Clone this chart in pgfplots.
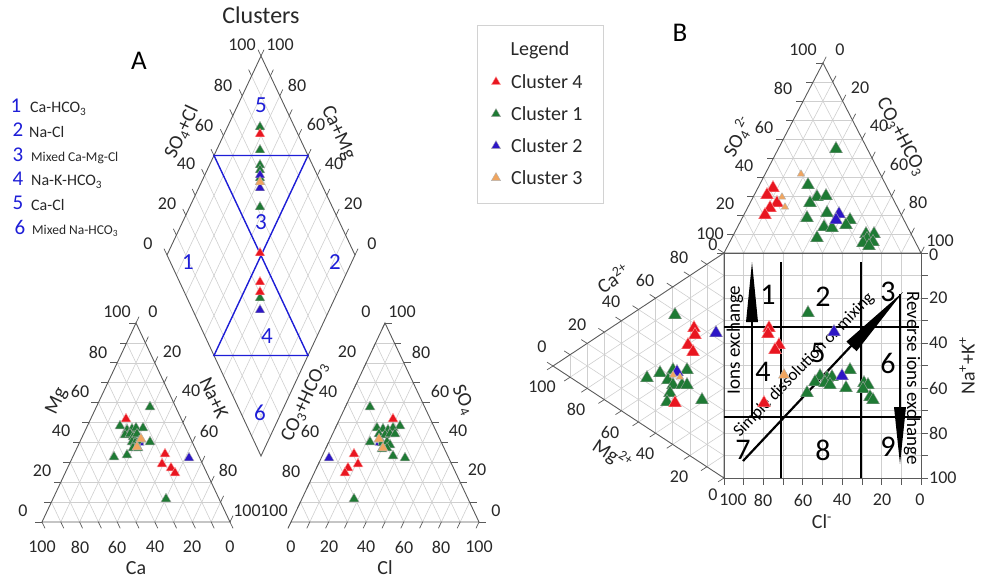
\documentclass[border=0pt]{standalone}
\usepackage{pgfplots}
\pgfplotsset{compat=1.18}
\usepackage{fontspec}
\setmainfont{Carlito}
\usetikzlibrary{calc}

\definecolor{cred}{RGB}{232,22,32}
\definecolor{cgreen}{RGB}{30,122,52}
\definecolor{cblue}{RGB}{45,22,198}
\definecolor{corange}{RGB}{240,165,95}
\definecolor{cline}{RGB}{30,30,215}
\definecolor{frm}{RGB}{90,90,90}
\definecolor{txt}{RGB}{40,40,40}

\newcommand\fs[1]{\fontsize{#1bp}{#1bp}\selectfont}

\tikzset{
  gridline/.style={draw=gray!38, line width=0.6bp},
  frame/.style={draw=frm, line width=0.9bp},
  tick/.style={draw=frm, line width=0.7bp},
  lab/.style={text=txt, font=\fs{18}, inner sep=0pt},
  ttl/.style={text=txt, font=\fs{20}, inner sep=0pt},
  bnum/.style={text=cline, font=\fs{23}, inner sep=0pt},
  snum/.style={text=black, font=\fs{30}, inner sep=0pt},
}

% ternary grid: P, Q (base), R (apex), iso-lines every 10 %
\newcommand{\trigrid}[3]{%
  \pgfplotsinvokeforeach{1,...,9}{%
    \draw[gridline] ($(#1)!0.##1!(#3)$) -- ($(#2)!0.##1!(#3)$);
    \draw[gridline] ($(#1)!0.##1!(#2)$) -- ($(#3)!0.##1!(#2)$);
    \draw[gridline] ($(#2)!0.##1!(#1)$) -- ($(#3)!0.##1!(#1)$);
  }%
}
% parallelogram grid: corners A B C D in order
\newcommand{\quadgrid}[4]{%
  \pgfplotsinvokeforeach{1,...,9}{%
    \draw[gridline] ($(#1)!0.##1!(#2)$) -- ($(#4)!0.##1!(#3)$);
    \draw[gridline] ($(#1)!0.##1!(#4)$) -- ($(#2)!0.##1!(#3)$);
  }%
}
% tick marks along a side, every 10 %
\newcommand{\sideticks}[4]{%
  \pgfplotsinvokeforeach{0,...,10}{%
    \draw[tick] ($(#1)!##1*0.1!(#2)$) -- ++(#3bp,#4bp);
  }%
}

\pgfplotsset{
  c1/.style={only marks, mark=triangle*, mark size=#1,
    mark options={fill=cgreen, draw=gray!70, line width=0.4bp}},
  c4/.style={only marks, mark=triangle*, mark size=#1,
    mark options={fill=cred, draw=red!35!white, line width=0.4bp}},
  c2/.style={only marks, mark=triangle*, mark size=#1,
    mark options={fill=cblue, draw=gray!60, line width=0.4bp}},
  c3/.style={only marks, mark=triangle*, mark size=#1,
    mark options={fill=corange, draw=gray!60, line width=0.4bp}},
}

\begin{document}
\begin{tikzpicture}
\path[use as bounding box] (0,0) rectangle (984bp,-579bp);
\begin{axis}[
  at={(0,0)}, anchor=north west,
  x=1bp, y=1bp, y dir=reverse,
  xmin=0, xmax=984, ymin=0, ymax=579,
  enlargelimits=false, hide axis, clip=false,
]
% ---------- Panel A : Piper diagram ----------
\coordinate (P1) at (axis cs:42,522);
\coordinate (Q1) at (axis cs:230,522);
\coordinate (R1) at (axis cs:136,323);
\coordinate (P2) at (axis cs:291,522);
\coordinate (Q2) at (axis cs:479,522);
\coordinate (R2) at (axis cs:385,323);
\coordinate (DL) at (axis cs:167,255);
\coordinate (DT) at (axis cs:261,56);
\coordinate (DR) at (axis cs:355,255);
\coordinate (DB) at (axis cs:261,456);

\trigrid{P1}{Q1}{R1}
\trigrid{P2}{Q2}{R2}
\quadgrid{DL}{DT}{DR}{DB}

\sideticks{P1}{R1}{-7}{0}
\sideticks{R1}{Q1}{3}{6.3}
\sideticks{P1}{Q1}{3}{-6.3}
\sideticks{P2}{R2}{-3}{-6.3}
\sideticks{R2}{Q2}{7}{0}
\sideticks{P2}{Q2}{-3}{-6.3}
\sideticks{DL}{DT}{-3}{6.3}
\sideticks{DT}{DR}{3}{6.3}

\draw[frame] (P1) -- (Q1) -- (R1) -- cycle;
\draw[frame] (P2) -- (Q2) -- (R2) -- cycle;
\draw[frame] (DL) -- (DT) -- (DR) -- (DB) -- cycle;

% hydrochemical facies fields
\draw[cline, line width=1.4bp] (axis cs:214,155.5) -- (axis cs:308,155.5) -- (axis cs:214,355.5) -- (axis cs:308,355.5) -- cycle;

% tick labels, cation triangle
\node[lab] at (axis cs:23,511) {0};
\node[lab] at (axis cs:42,471) {20};
\node[lab] at (axis cs:61,431) {40};
\node[lab] at (axis cs:80,391) {60};
\node[lab] at (axis cs:98,352) {80};
\node[lab] at (axis cs:117,312) {100};
\node[lab] at (axis cs:153,312) {0};
\node[lab] at (axis cs:172,352) {20};
\node[lab] at (axis cs:191,391) {40};
\node[lab] at (axis cs:209,431) {60};
\node[lab] at (axis cs:228,470) {80};
\node[lab] at (axis cs:247,511) {100};
\node[lab] at (axis cs:42,547) {100};
\node[lab] at (axis cs:80,547) {80};
\node[lab] at (axis cs:117,547) {60};
\node[lab] at (axis cs:155,547) {40};
\node[lab] at (axis cs:192,547) {20};
\node[lab] at (axis cs:230,547) {0};
\node[ttl] at (axis cs:136,568) {Ca};
\node[ttl, rotate=65] at (axis cs:57,401) {Mg};
\node[ttl, rotate=-65] at (axis cs:214,398) {Na+K};

% tick labels, anion triangle
\node[lab] at (axis cs:274,511) {100};
\node[lab] at (axis cs:291,471) {80};
\node[lab] at (axis cs:310,431) {60};
\node[lab] at (axis cs:328,392) {40};
\node[lab] at (axis cs:347,352) {20};
\node[lab] at (axis cs:366,312) {0};
\node[lab] at (axis cs:402,312) {100};
\node[lab] at (axis cs:421,352) {80};
\node[lab] at (axis cs:440,391) {60};
\node[lab] at (axis cs:458,431) {40};
\node[lab] at (axis cs:477,470) {20};
\node[lab] at (axis cs:496,511) {0};
\node[lab] at (axis cs:291,547) {0};
\node[lab] at (axis cs:329,547) {20};
\node[lab] at (axis cs:366,547) {40};
\node[lab] at (axis cs:404,547) {60};
\node[lab] at (axis cs:441,547) {80};
\node[lab] at (axis cs:479,547) {100};
\node[ttl] at (axis cs:385,568) {Cl};
\node[ttl, rotate=65] at (axis cs:305,402) {CO\textsubscript{3}+HCO\textsubscript{3}};
\node[ttl, rotate=-65] at (axis cs:463,400) {SO\textsubscript{4}};

% tick labels, diamond
\node[lab] at (axis cs:148,244) {0};
\node[lab] at (axis cs:167,204) {20};
\node[lab] at (axis cs:186,164) {40};
\node[lab] at (axis cs:204,125) {60};
\node[lab] at (axis cs:223,85) {80};
\node[lab] at (axis cs:242,45) {100};
\node[lab] at (axis cs:280,45) {100};
\node[lab] at (axis cs:297,85) {80};
\node[lab] at (axis cs:316,124) {60};
\node[lab] at (axis cs:334,164) {40};
\node[lab] at (axis cs:353,204) {20};
\node[lab] at (axis cs:372,244) {0};
\node[ttl, rotate=65] at (axis cs:182,132) {SO\textsubscript{4}+Cl};
\node[ttl, rotate=-65] at (axis cs:338,133) {Ca+Mg};

\node[bnum] at (axis cs:261,105) {5};
\node[bnum] at (axis cs:261,222) {3};
\node[bnum] at (axis cs:188,262) {1};
\node[bnum] at (axis cs:335,262) {2};
\node[bnum] at (axis cs:267,336) {4};
\node[bnum] at (axis cs:260,413) {6};

\node[text=txt, font=\fs{24}, inner sep=0pt] at (axis cs:261,15) {Clusters};
\node[text=black, font=\fs{27}, inner sep=0pt] at (axis cs:139,61) {A};

% water type list
\node[text=cline, font=\fs{21}, inner sep=0pt] at (axis cs:16,106) {1};
\node[text=cline, font=\fs{21}, inner sep=0pt] at (axis cs:18,130) {2};
\node[text=cline, font=\fs{21}, inner sep=0pt] at (axis cs:18,155) {3};
\node[text=cline, font=\fs{21}, inner sep=0pt] at (axis cs:18,179) {4};
\node[text=cline, font=\fs{21}, inner sep=0pt] at (axis cs:18,203) {5};
\node[text=cline, font=\fs{21}, inner sep=0pt] at (axis cs:20,227) {6};
\node[anchor=west, text=txt, font=\fs{16}, inner sep=0pt] at (axis cs:30,109) {Ca-HCO\textsubscript{3}};
\node[anchor=west, text=txt, font=\fs{16}, inner sep=0pt] at (axis cs:29,132) {Na-Cl};
\node[anchor=west, text=txt, font=\fs{13.5}, inner sep=0pt] at (axis cs:31,158) {Mixed Ca-Mg-Cl};
\node[anchor=west, text=txt, font=\fs{16}, inner sep=0pt] at (axis cs:31,182) {Na-K-HCO\textsubscript{3}};
\node[anchor=west, text=txt, font=\fs{16}, inner sep=0pt] at (axis cs:31,205) {Ca-Cl};
\node[anchor=west, text=txt, font=\fs{13.5}, inner sep=0pt] at (axis cs:32,231) {Mixed Na-HCO\textsubscript{3}};

% samples, diamond
\addplot[c1=5.6] coordinates {(260,127) (260,150) (260,165) (260,170) (260,178) (260,207) (260,298)};
\addplot[c4=5.6] coordinates {(260,134) (260,253) (260,282) (260,292)};
\addplot[c2=5.6] coordinates {(260,175) (260,188) (260,310)};
\addplot[c3=5.6] coordinates {(260,182)};
% samples, cation triangle
\addplot[c1=5.8] coordinates {(150,407) (120,426) (127,430) (132,429) (136,428) (143,428) (125,435) (130,434) (133,437) (137,434) (132,442) (135,443) (139,441) (150,442) (133,448) (138,448) (114,457) (127,455) (166,499)};
\addplot[c4=5.8] coordinates {(126,419) (165,454) (162,464) (171,468) (175,473)};
\addplot[c2=5.8] coordinates {(189,458)};
\addplot[c2=2.5] coordinates {(142,444)};
\addplot[c3=5.8] coordinates {(141,439) (137,447)};
% samples, anion triangle
\addplot[c1=5.8] coordinates {(370,407) (400,426) (377,428) (383,429) (388,430) (393,428) (379,434) (385,435) (390,434) (395,434) (370,442) (382,443) (387,442) (390,445) (382,449) (387,448) (393,456) (405,458) (354,499)};
\addplot[c4=5.8] coordinates {(393,419) (354,454) (358,464) (348,468) (345,473)};
\addplot[c2=5.8] coordinates {(329,458)};
\addplot[c2=2.5] coordinates {(377,444)};
\addplot[c3=5.8] coordinates {(379,439) (383,448)};

% ---------- Legend ----------
\draw[draw=gray!35, line width=0.8bp] (axis cs:477,25) rectangle (axis cs:603,203);
\node[text=txt, font=\fs{20}, inner sep=0pt] at (axis cs:540,50) {Legend};
\addplot[c4=5.4] coordinates {(496,82)};
\addplot[c1=5.4] coordinates {(496,114)};
\addplot[c2=5.4] coordinates {(496,146)};
\addplot[c3=5.4] coordinates {(496,178)};
\node[anchor=west, text=txt, font=\fs{20}, inner sep=0pt] at (axis cs:511,82) {Cluster 4};
\node[anchor=west, text=txt, font=\fs{20}, inner sep=0pt] at (axis cs:511,114) {Cluster 1};
\node[anchor=west, text=txt, font=\fs{20}, inner sep=0pt] at (axis cs:511,146) {Cluster 2};
\node[anchor=west, text=txt, font=\fs{20}, inner sep=0pt] at (axis cs:511,178) {Cluster 3};

% ---------- Panel B : expanded Durov diagram ----------
\coordinate (TP) at (axis cs:724,253);
\coordinate (TQ) at (axis cs:921,253);
\coordinate (TR) at (axis cs:823,63);
\coordinate (LU) at (axis cs:724,253);
\coordinate (LW) at (axis cs:724,478);
\coordinate (LV) at (axis cs:553,366);
\coordinate (SA) at (axis cs:724,253);
\coordinate (SB) at (axis cs:921,253);
\coordinate (SC) at (axis cs:921,478);
\coordinate (SD) at (axis cs:724,478);

\trigrid{TP}{TQ}{TR}
\trigrid{LU}{LW}{LV}
\quadgrid{SA}{SB}{SC}{SD}

\sideticks{TP}{TR}{-7}{0}
\sideticks{TR}{TQ}{3.2}{6.2}
\sideticks{LU}{LV}{-5.9}{3.8}
\sideticks{LV}{LW}{-5.9}{-3.8}
\sideticks{SB}{SC}{7}{0}
\sideticks{SD}{SC}{0}{-7}

\draw[frame] (TP) -- (TQ) -- (TR) -- cycle;
\draw[frame] (LU) -- (LW) -- (LV) -- cycle;
\draw[frame] (SA) -- (SB) -- (SC) -- (SD) -- cycle;

% tick labels, anion triangle
\node[lab] at (axis cs:803,50) {100};
\node[lab] at (axis cs:783,88) {80};
\node[lab] at (axis cs:764,127) {60};
\node[lab] at (axis cs:744,166) {40};
\node[lab] at (axis cs:725,204) {20};
\node[lab] at (axis cs:713,245) {0};
\node[lab] at (axis cs:840,50) {0};
\node[lab] at (axis cs:860,88) {20};
\node[lab] at (axis cs:879,126) {40};
\node[lab] at (axis cs:899,164) {60};
\node[lab] at (axis cs:918,202) {80};
\node[lab] at (axis cs:940,241) {100};
\node[ttl, rotate=62] at (axis cs:738,137) {SO\textsubscript{4}\textsuperscript{2-}};
\node[ttl, rotate=-62] at (axis cs:901,137) {CO\textsubscript{3}+HCO\textsubscript{3}};

% tick labels, cation triangle
\node[lab] at (axis cs:710,234) {100};
\node[lab] at (axis cs:679,257) {80};
\node[lab] at (axis cs:645,280) {60};
\node[lab] at (axis cs:611,302) {40};
\node[lab] at (axis cs:577,325) {20};
\node[lab] at (axis cs:542,347) {0};
\node[lab] at (axis cs:542,387) {100};
\node[lab] at (axis cs:576,409) {80};
\node[lab] at (axis cs:610,432) {60};
\node[lab] at (axis cs:645,454) {40};
\node[lab] at (axis cs:679,477) {20};
\node[lab] at (axis cs:713,495) {0};
\node[ttl, rotate=33] at (axis cs:613,278) {Ca\textsuperscript{2+}};
\node[ttl, rotate=-33] at (axis cs:612,455) {Mg\textsuperscript{2+}};

% tick labels, square
\node[lab, anchor=west] at (axis cs:929,255) {0};
\node[lab, anchor=west] at (axis cs:929,298) {20};
\node[lab, anchor=west] at (axis cs:929,343) {40};
\node[lab, anchor=west] at (axis cs:929,388) {60};
\node[lab, anchor=west] at (axis cs:929,433) {80};
\node[lab, anchor=west] at (axis cs:929,478) {100};
\node[lab] at (axis cs:733,500) {100};
\node[lab] at (axis cs:763,500) {80};
\node[lab] at (axis cs:803,500) {60};
\node[lab] at (axis cs:842,500) {40};
\node[lab] at (axis cs:882,500) {20};
\node[lab] at (axis cs:920,500) {0};
\node[ttl] at (axis cs:822,522) {Cl\textsuperscript{-}};
\node[ttl, rotate=90] at (axis cs:967,366) {Na\textsuperscript{+}+K\textsuperscript{+}};

\node[text=black, font=\fs{27}, inner sep=0pt] at (axis cs:680,33) {B};

% samples, anion triangle
\addplot[c1=7.6] coordinates {(836,149) (808,185) (817,197) (826,196) (810,203) (807,218) (827,213) (850,220) (846,225) (824,227) (832,228) (817,238) (866,234) (874,234) (867,239) (863,243) (873,242) (869,246)};
\addplot[c4=7.6] coordinates {(773,188) (767,195) (777,203) (770,208) (765,215)};
\addplot[c2=7.6] coordinates {(839,214) (836,220)};
\addplot[c3=4.3] coordinates {(801,174) (782,197) (785,207)};
% samples, cation triangle
\addplot[c1=7.6] coordinates {(675,315) (647,378) (660,373) (673,370) (687,370) (668,380) (673,385) (682,385) (687,385) (670,393) (667,402) (702,400)};
\addplot[c4=7.6] coordinates {(694,328) (695,335) (688,345) (693,352) (675,403)};
\addplot[c2=7.6] coordinates {(716,333) (677,372)};
\addplot[c3=4.3] coordinates {(673,375) (680,377)};
% samples, square
\addplot[c1=7.6] coordinates {(808,313) (850,370) (820,376) (827,378) (832,377) (815,382) (825,383) (830,385) (846,388) (807,393) (864,383) (868,385) (863,389) (870,397) (873,400)};
\addplot[c4=7.6] coordinates {(769,328) (768,334) (779,345) (775,350) (764,403)};
\addplot[c2=7.6] coordinates {(834,332) (842,376)};
\addplot[c3=6.5] coordinates {(784,375)};

% field boundaries
\draw[black, line width=1.3bp] (axis cs:781,262) -- (axis cs:781,478);
\draw[black, line width=1.3bp] (axis cs:861,262) -- (axis cs:861,478);
\draw[black, line width=1.3bp] (axis cs:724,327) -- (axis cs:919,327);
\draw[black, line width=1.3bp] (axis cs:724,417) -- (axis cs:921,417);

\node[snum] at (axis cs:768,295) {1};
\node[snum] at (axis cs:823,297) {2};
\node[snum] at (axis cs:888,292) {3};
\node[snum] at (axis cs:763,372) {4};
\node[snum] at (axis cs:818,353) {5};
\node[snum] at (axis cs:888,363) {6};
\node[snum] at (axis cs:743,450) {7};
\node[snum] at (axis cs:823,450) {8};
\node[snum] at (axis cs:888,447) {9};

% process arrows
\draw[black, line width=2bp] (axis cs:752,417) -- (axis cs:752,318);
\fill[black] (axis cs:746,322) -- (axis cs:752,262) -- (axis cs:758,322) -- cycle;
\draw[black, line width=2bp] (axis cs:900,294) -- (axis cs:900,410);
\fill[black] (axis cs:894,407) -- (axis cs:900,464) -- (axis cs:906,407) -- cycle;
\draw[black, line width=2.2bp] (axis cs:743,461) -- (axis cs:852,345);
\fill[black] (axis cs:856.6,351.2) -- (axis cs:903,292) -- (axis cs:846.4,341.6) -- cycle;

\node[text=black, font=\fs{19}, inner sep=0pt, rotate=90] at (axis cs:735,340) {Ions exchange};
\node[text=black, font=\fs{19}, inner sep=0pt, rotate=-90] at (axis cs:912,378) {Reverse ions exchange};
\node[text=black, font=\fs{17}, inner sep=0pt, rotate=46] at (axis cs:804,365) {Simple dissolution or mixing};
\end{axis}
\end{tikzpicture}
\end{document}
